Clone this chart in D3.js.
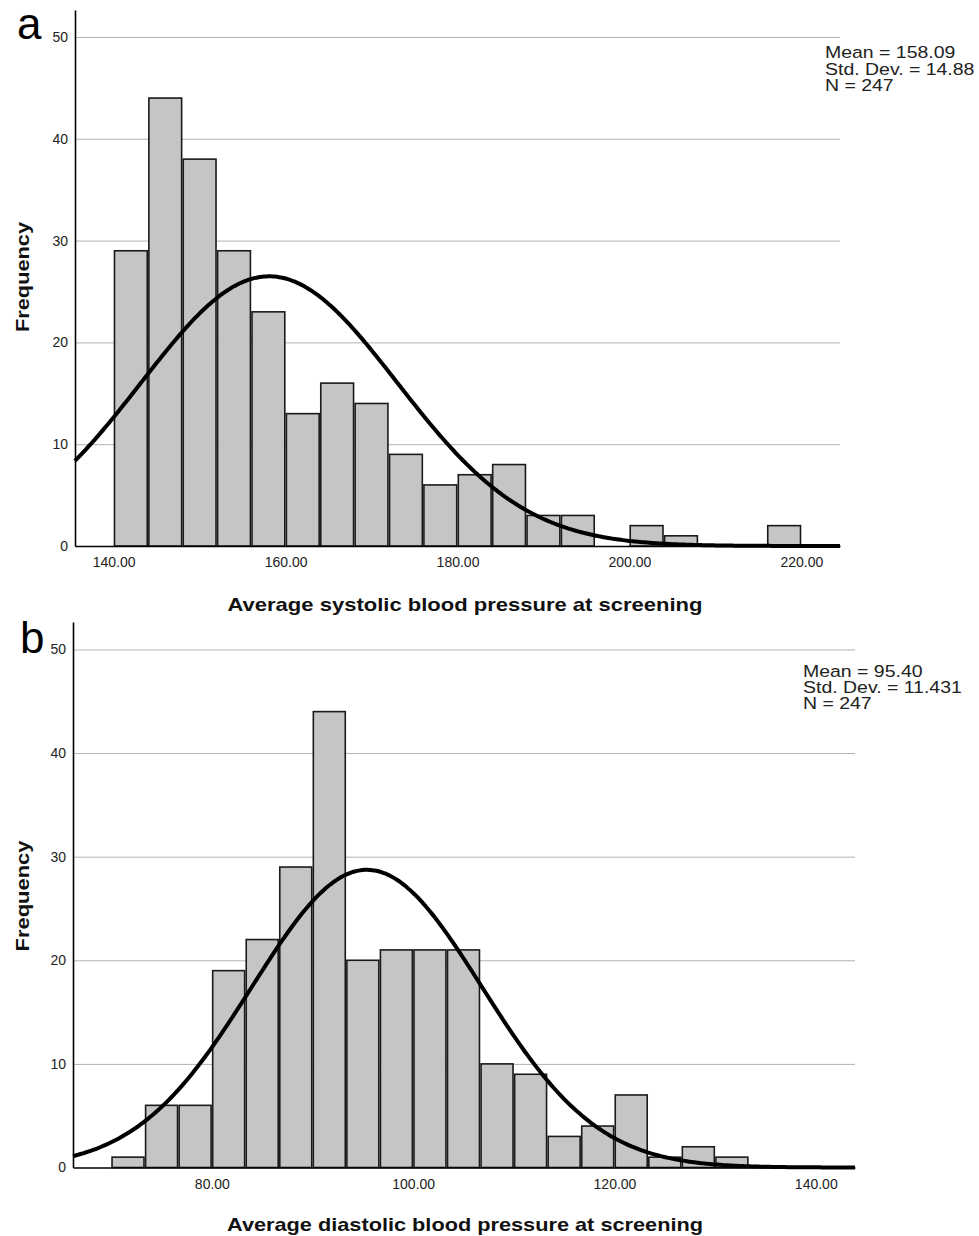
<!DOCTYPE html>
<html>
<head>
<meta charset="utf-8">
<script src="https://cdn.jsdelivr.net/npm/d3@7"></script>
<style>
  body { margin: 0; background: white; }
  text { font-family: "Liberation Sans", Arial, sans-serif; }
</style>
</head>
<body>
<div id="chart"></div>
<script>
// ---- data ----
// systolic: bins of 4 starting at 140
let sys_binStart = 140
let sys_binWidth = 4
let sys_counts = [29, 44, 38, 29, 23, 13, 16, 14, 9, 6, 7, 8, 3, 3, 0, 2, 1, 0, 0, 2]
let sys_xTicks = [140, 160, 180, 200, 220]
let sys_stats = { mean: 158.09, sd: 14.88, n: 247 }
let sys_statText = ["Mean = 158.09", "Std. Dev. = 14.88", "N = 247"]

// diastolic: bins of 10/3 starting at 70
let dia_binStart = 70
let dia_binWidth = 10 / 3
let dia_counts = [1, 6, 6, 19, 22, 29, 44, 20, 21, 21, 21, 10, 9, 3, 4, 7, 1, 2, 1]
let dia_xTicks = [80, 100, 120, 140]
let dia_stats = { mean: 95.40, sd: 11.431, n: 247 }
let dia_statText = ["Mean = 95.40", "Std. Dev. = 11.431", "N = 247"]

let yTicks = [0, 10, 20, 30, 40, 50]

const W = 979, H = 1236
const svg = d3.select("#chart").append("svg")
    .attr("width", W).attr("height", H)
    .style("background", "white")

// panel layout
const panels = [
    {
        letter: "a", letterX: 17, letterY: 39,
        counts: sys_counts, start: sys_binStart, width: sys_binWidth, stats: sys_stats,
        statText: sys_statText, statX: 825, statY: 58, statStep: 16.6,
        xTicks: sys_xTicks, xDomain: [135.5, 224.5], xRange: [75, 840],
        yRange: [546, 10], yTop: 52.65,
        title: "Average systolic blood pressure at screening", titleX: 465, titleY: 611, titleLen: 475,
        freqY: 277, freqLen: 110, tickPad: 11
    },
    {
        letter: "b", letterX: 20, letterY: 653,
        counts: dia_counts, start: dia_binStart, width: dia_binWidth, stats: dia_stats,
        statText: dia_statText, statX: 803, statY: 676.5, statStep: 16,
        xTicks: dia_xTicks, xDomain: [66.2, 143.9], xRange: [73, 855],
        yRange: [1167.5, 622], yTop: 52.65,
        title: "Average diastolic blood pressure at screening", titleX: 465, titleY: 1231, titleLen: 476,
        freqY: 896, freqLen: 111, tickPad: 12
    }
]

panels.forEach(p => drawPanel(p))

function drawPanel(p) {
    let x = d3.scaleLinear().domain(p.xDomain).range(p.xRange)
    let y = d3.scaleLinear().domain([0, p.yTop]).range(p.yRange)
    let g = svg.append("g")

    // gridlines
    g.append("g")
        .attr("transform", `translate(${p.xRange[0]},0)`)
        .call(d3.axisLeft(y).tickValues(yTicks.slice(1)).tickSize(-(p.xRange[1] - p.xRange[0])).tickFormat(""))
        .call(a => a.select(".domain").remove())
        .call(a => a.selectAll("line").attr("stroke", "#b2b2b2").attr("stroke-width", 1))

    // bars
    let bins = p.counts.map((c, i) => ({ x0: p.start + i * p.width, x1: p.start + (i + 1) * p.width, count: c }))
        .filter(d => d.count > 0)
    g.append("g").selectAll("rect")
        .data(bins).join("rect")
        .attr("x", d => x(d.x0) + 0.8)
        .attr("width", d => x(d.x1) - x(d.x0) - 1.6)
        .attr("y", d => y(d.count))
        .attr("height", d => y(0) - y(d.count))
        .attr("fill", "#c4c5c7")
        .attr("stroke", "#1a1a1a")
        .attr("stroke-width", 1.6)

    // fitted normal curve: N * binwidth * pdf
    let k = p.stats.n * p.width / (p.stats.sd * Math.sqrt(2 * Math.PI))
    let xs = d3.range(p.xDomain[0], p.xDomain[1], 0.25).concat([p.xDomain[1]])
    let line = d3.line()
        .x(v => x(v))
        .y(v => y(k * Math.exp(-0.5 * Math.pow((v - p.stats.mean) / p.stats.sd, 2))))
        .curve(d3.curveBasis)
    g.append("path")
        .attr("d", line(xs))
        .attr("fill", "none")
        .attr("stroke", "#000")
        .attr("stroke-width", 4)

    // axes
    g.append("g")
        .attr("transform", `translate(0,${y(0)})`)
        .call(d3.axisBottom(x).tickValues(p.xTicks).tickSize(0).tickPadding(p.tickPad).tickFormat(d3.format(".2f")))
        .call(a => a.select(".domain").attr("stroke", "#000").attr("stroke-width", 1.6))
        .call(a => a.selectAll("text").attr("font-size", 14).attr("fill", "#222")
            .style("font-family", "'Liberation Sans', Arial, sans-serif"))

    g.append("g")
        .attr("transform", `translate(${p.xRange[0]},0)`)
        .call(d3.axisLeft(y).tickValues(yTicks).tickSize(0).tickPadding(7))
        .call(a => a.select(".domain").attr("stroke", "#000").attr("stroke-width", 1.6))
        .call(a => a.selectAll("text").attr("font-size", 14).attr("fill", "#222")
            .style("font-family", "'Liberation Sans', Arial, sans-serif"))

    // axis titles
    g.append("text")
        .attr("x", p.titleX - p.titleLen / 2).attr("y", p.titleY)
        .attr("font-size", 19).attr("font-weight", "bold").attr("fill", "#111")
        .attr("textLength", p.titleLen).attr("lengthAdjust", "spacingAndGlyphs")
        .text(p.title)

    g.append("text")
        .attr("transform", `translate(29,${p.freqY + p.freqLen / 2}) rotate(-90)`)
        .attr("font-size", 19).attr("font-weight", "bold").attr("fill", "#111")
        .attr("textLength", p.freqLen).attr("lengthAdjust", "spacingAndGlyphs")
        .text("Frequency")

    // panel letter
    g.append("text")
        .attr("x", p.letterX).attr("y", p.letterY)
        .attr("font-size", 44).attr("fill", "#000")
        .text(p.letter)

    // stats box text
    g.append("g").selectAll("text")
        .data(p.statText).join("text")
        .attr("transform", (d, i) => `translate(${p.statX},${p.statY + i * p.statStep}) scale(1.18,1)`)
        .attr("font-size", 16.5).attr("fill", "#222")
        .text(d => d)
}
</script>
</body>
</html>
